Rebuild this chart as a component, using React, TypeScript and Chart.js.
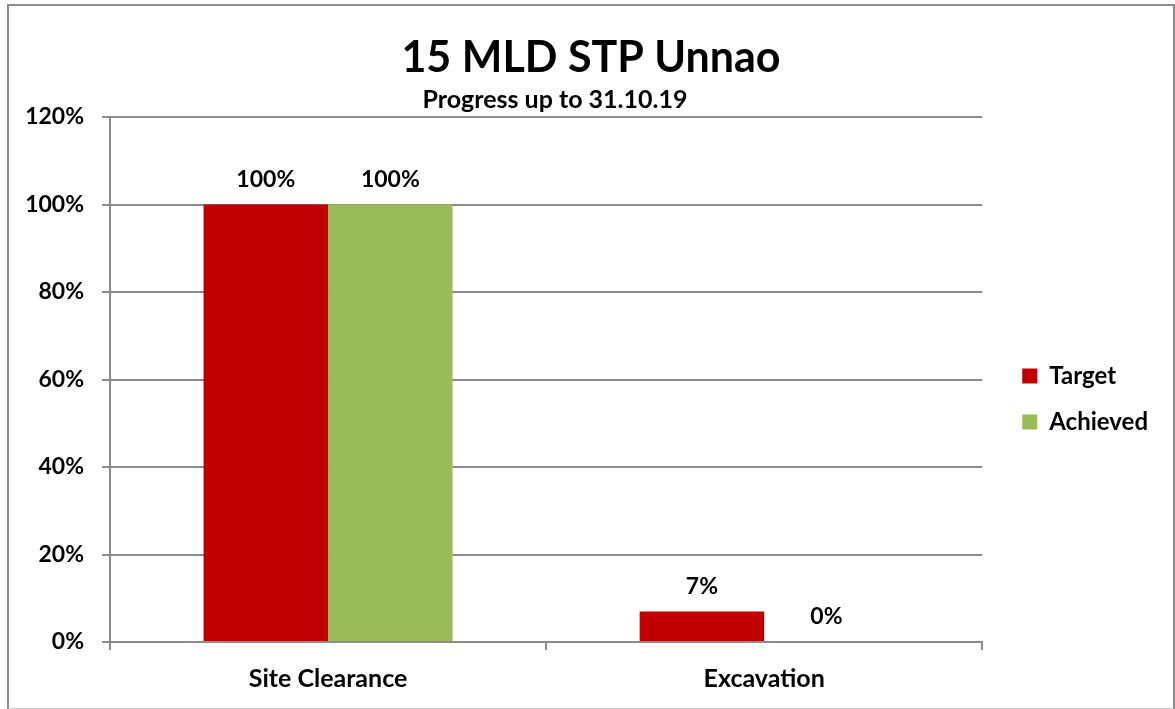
import React, { useEffect, useRef } from "react";
import { Chart, registerables } from "chart.js";

Chart.register(...registerables);

const categories = ["Site Clearance", "Excavation"];
const targetValues = [100, 7];
const achievedValues = [100, 0];
const seriesNames = ["Target", "Achieved"];
const yTicks = { min: 0, max: 120, step: 20 };
const titleText = "15 MLD STP Unnao";
const subtitleText = "Progress up to 31.10.19";

const FONT = "Lato";
const GRID = "#8c8c8c";

const headingPlugin = {
  id: "headings",
  afterDraw(chart: any) {
    const ctx = chart.ctx;
    ctx.save();
    ctx.fillStyle = "#000";
    ctx.textAlign = "center";
    ctx.textBaseline = "alphabetic";
    ctx.font = `bold 43px ${FONT}`;
    ctx.fillText(titleText, 591, 72);
    ctx.font = `bold 25px ${FONT}`;
    ctx.fillText(subtitleText, 555, 108);
    ctx.restore();
  },
};

const valueLabelPlugin = {
  id: "valueLabels",
  afterDatasetsDraw(chart: any) {
    const ctx = chart.ctx;
    ctx.save();
    ctx.fillStyle = "#000";
    ctx.textAlign = "center";
    ctx.textBaseline = "middle";
    ctx.font = `bold 23px ${FONT}`;
    chart.data.datasets.forEach((ds: any, di: number) => {
      const meta = chart.getDatasetMeta(di);
      meta.data.forEach((el: any, i: number) => {
        ctx.fillText(`${ds.data[i]}%`, el.x, el.y - 25);
      });
    });
    ctx.restore();
  },
};

export default function App() {
  const ref = useRef<HTMLCanvasElement>(null);
  useEffect(() => {
    if (!ref.current) return;
    Chart.defaults.font.family = FONT;
    const chart = new Chart(ref.current, {
      type: "bar",
      data: {
        labels: categories,
        datasets: [
          {
            label: seriesNames[0],
            data: targetValues,
            backgroundColor: "#C00000",
            categoryPercentage: 0.571,
            barPercentage: 1,
          },
          {
            label: seriesNames[1],
            data: achievedValues,
            backgroundColor: "#9BBB59",
            categoryPercentage: 0.571,
            barPercentage: 1,
          },
        ],
      },
      options: {
        animation: false,
        responsive: false,
        layout: { padding: { top: 117, bottom: 7, left: 0, right: 17 } },
        plugins: {
          title: { display: false },
          tooltip: { enabled: false },
          legend: {
            position: "right",
            align: "center",
            fullSize: false,
            title: {
              display: true,
              text: "",
              font: { size: 39, lineHeight: 1 },
              padding: 0,
            },
            labels: {
              boxWidth: 15,
              boxHeight: 15,
              padding: 22,
              color: "#000",
              font: { family: FONT, size: 24, weight: "bold" },
            },
          },
        },
        scales: {
          x: {
            offset: true,
            grid: {
              offset: true,
              drawOnChartArea: false,
              drawTicks: true,
              tickLength: 8,
              color: GRID,
              lineWidth: 2,
            },
            border: { display: true, color: GRID, width: 2 },
            ticks: {
              padding: 14,
              color: "#000",
              font: { family: FONT, size: 25, weight: "bold" },
            },
            afterFit: (s: any) => {
              s.height = 60;
            },
          },
          y: {
            min: yTicks.min,
            max: yTicks.max,
            grid: { color: GRID, lineWidth: 2, tickLength: 8 },
            border: { display: true, color: GRID, width: 2 },
            ticks: {
              stepSize: yTicks.step,
              padding: 18,
              color: "#000",
              font: { family: FONT, size: 23, weight: "bold" },
              callback: (v: any) => `${v}%`,
            },
            afterFit: (s: any) => {
              s.width = 110;
            },
          },
          yR: {
            position: "right",
            display: true,
            grid: { display: false, drawTicks: false },
            border: { display: false },
            ticks: { display: false },
            afterFit: (s: any) => {
              s.width = 18;
            },
          },
        },
      } as any,
      plugins: [headingPlugin, valueLabelPlugin],
    });
    return () => chart.destroy();
  }, []);

  return (
    <div style={{ position: "absolute", left: 0, top: 0, width: 1175, height: 709, background: "#fff", overflow: "hidden" }}>
      <canvas ref={ref} width={1175} height={709} style={{ position: "absolute", left: 0, top: 0 }} />
      <div
        style={{
          position: "absolute",
          left: 7,
          top: 4,
          width: 1168,
          height: 705,
          boxSizing: "border-box",
          borderTop: "2px solid #8c8c8c",
          borderLeft: "2px solid #8c8c8c",
          borderRight: "2px solid #8c8c8c",
          borderBottom: "1px solid #c8c8c8",
          pointerEvents: "none",
        }}
      />
    </div>
  );
}
